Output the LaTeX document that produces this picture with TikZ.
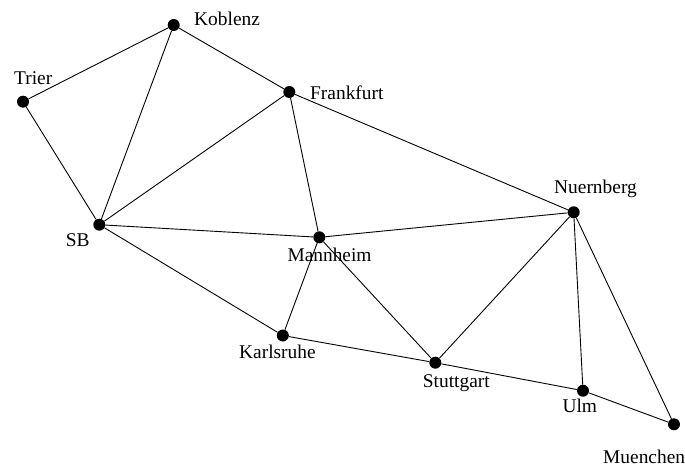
\documentclass[tikz,border=0pt]{standalone}
\usepackage{fontspec}
\setmainfont{Liberation Serif}
\begin{document}
\begin{tikzpicture}[x=1pt,y=-1pt,
  city/.style={circle, fill=black, inner sep=0pt, minimum size=12pt},
  cityname/.style={anchor=base west, inner sep=0pt, font=\fontsize{19.4}{23}\selectfont},
  road/.style={line width=0.9pt, black}]
\useasboundingbox (0,0) rectangle (685,468);

% cities
\node[city] (kob) at (173.7,25.0) {};
\node[city] (tri) at (23.0,101.7) {};
\node[city] (fra) at (289.3,92.0) {};
\node[city] (sb)  at (99.3,224.7) {};
\node[city] (man) at (319.3,237.3) {};
\node[city] (ka)  at (282.8,335.5) {};
\node[city] (nue) at (573.7,212.3) {};
\node[city] (stu) at (435.3,362.7) {};
\node[city] (ulm) at (583.0,390.7) {};
\node[city] (mue) at (674.0,424.3) {};

% names
\node[cityname] (lkob) at (194.0,25.3) {Koblenz};
\node[cityname] (ltri) at (14.0,85.0) {Trier};
\node[cityname] (lfra) at (310.0,99.3) {Frankfurt};
\node[cityname] (lsb)  at (65.7,246.7) {SB};
\node[cityname] (lman) at (287.3,261.7) {Mannheim};
\node[cityname] (lka)  at (239.0,358.3) {Karlsruhe};
\node[cityname] (lnue) at (554.0,193.3) {Nuernberg};
\node[cityname] (lstu) at (422.7,387.3) {Stuttgart};
\node[cityname] (lulm) at (562.3,412.3) {Ulm};
\node[cityname] (lmue) at (603.0,463.3) {Muenchen};

% roads
\foreach \a/\b in {tri/kob, tri/sb, kob/sb, kob/fra, fra/sb, fra/man, fra/nue,
                   sb/man, sb/ka, man/ka, man/stu, man/nue, ka/stu, stu/nue,
                   stu/ulm, nue/ulm, nue/mue, ulm/mue}
  \draw[road] (\a) -- (\b);
\end{tikzpicture}
\end{document}
